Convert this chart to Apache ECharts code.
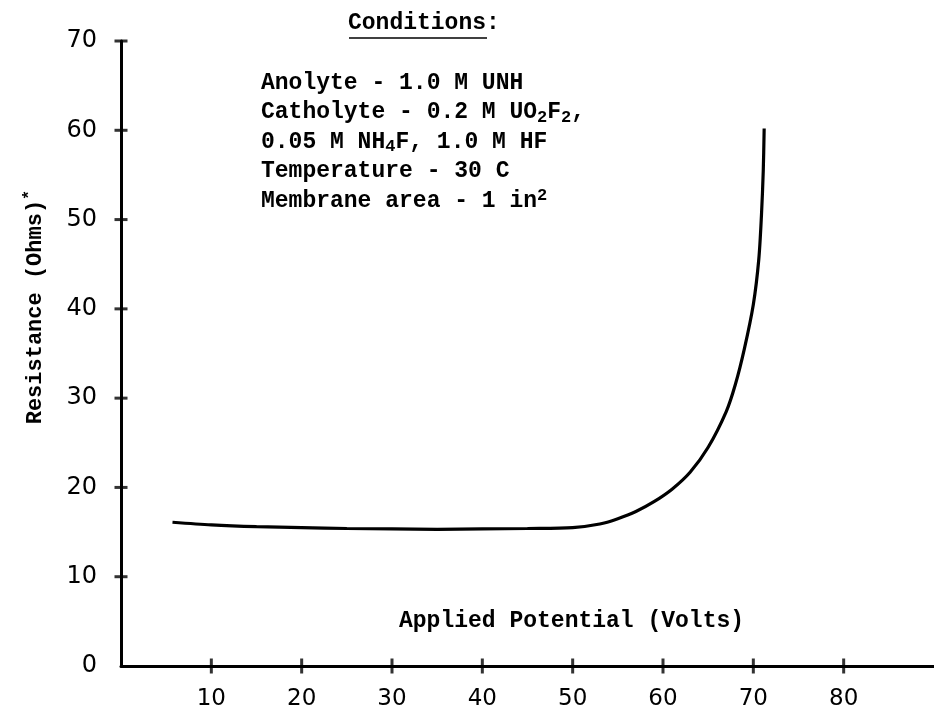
<!DOCTYPE html>
<html>
<head>
<meta charset="utf-8">
<script src="https://cdn.jsdelivr.net/npm/echarts@6/dist/echarts.min.js"></script>
<style>
html,body{margin:0;padding:0;background:#fff;}
#chart{width:934px;height:711px;}
</style>
</head>
<body>
<div id="chart"></div>
<script>
// ---- data ----
const potentialVolts = [5.7, 10, 15, 20, 25, 30, 35, 40, 45, 50, 53, 55, 57, 59, 61, 63, 65, 67, 68, 69, 70, 70.6, 70.9, 71.1, 71.2];
const resistanceOhms = [16.1, 15.8, 15.6, 15.5, 15.4, 15.35, 15.3, 15.35, 15.4, 15.5, 15.9, 16.5, 17.3, 18.4, 19.8, 21.7, 24.5, 28.5, 31.5, 35.5, 40.5, 45.5, 50.5, 55.5, 60.2];
const xTickLabels = [10, 20, 30, 40, 50, 60, 70, 80];
const yTickLabels = [0, 10, 20, 30, 40, 50, 60, 70];
const yTickMarks = [10, 20, 30, 40, 50, 60, 70];
const xAxisTitle = 'Applied Potential (Volts)';
const yAxisTitle = 'Resistance (Ohms)';
const conditionsTitle = 'Conditions';
const conditionLines = [
  'Anolyte - 1.0 M UNH',
  'Catholyte - 0.2 M UO{sub|2}F{sub|2},',
  '0.05 M NH{sub|4}F, 1.0 M HF',
  'Temperature - 30 C',
  'Membrane area - 1 in{sup|2}'
];

const mono = '"Liberation Mono", "DejaVu Sans Mono", monospace';
const numFont = '"DejaVu Sans", sans-serif';
const points = potentialVolts.map((x, i) => [x, resistanceOhms[i]]);
// tick crosses placed through the axis scales
const xCrosses = xTickLabels.map(v => [v, 0]);
const yCrosses = yTickMarks.map(v => [0, v]);

const richStyles = {
  sub: { fontFamily: mono, fontSize: 17, verticalAlign: 'bottom', padding: [10, 0, 0, 0], fill: '#000', fontWeight: 'bold' },
  sup: { fontFamily: mono, fontSize: 17, verticalAlign: 'top', padding: [0, 0, 10, 0], fill: '#000', fontWeight: 'bold' }
};

const graphics = [];
graphics.push({
  type: 'text', left: 348, top: 12,
  style: { text: conditionsTitle + ':', font: 'bold 23px ' + mono, fill: '#000' }
});
graphics.push({
  type: 'line', shape: { x1: 349, y1: 38, x2: 487, y2: 38 },
  style: { stroke: '#000', lineWidth: 1.5 }
});
conditionLines.forEach((t, i) => {
  graphics.push({
    type: 'text', x: 261, y: 83 + i * 29.5,
    style: {
      text: t, fontFamily: mono, fontSize: 23, fontWeight: 'bold', fill: '#000',
      verticalAlign: 'middle', align: 'left', rich: richStyles
    }
  });
});
graphics.push({
  type: 'text', x: 399, y: 621,
  style: { text: xAxisTitle, fontFamily: mono, fontSize: 23, fontWeight: 'bold', fill: '#000', verticalAlign: 'middle', align: 'left' }
});
graphics.push({
  type: 'text', x: 35, y: 307, rotation: Math.PI / 2,
  style: {
    text: yAxisTitle + '{sup|*}', fontFamily: mono, fontSize: 22, fontWeight: 'bold', fill: '#000',
    verticalAlign: 'middle', align: 'center', rich: richStyles
  }
});

const chart = echarts.init(document.getElementById('chart'));
chart.setOption({
  backgroundColor: '#ffffff',
  animation: false,
  grid: { left: 121, right: -9, top: 41, bottom: 43, containLabel: false },
  xAxis: {
    type: 'value', min: 0, max: 90, interval: 10, position: 'bottom',
    axisLine: { show: true, lineStyle: { color: '#000', width: 3 } },
    axisTick: { show: false },
    splitLine: { show: false },
    axisLabel: {
      margin: 22, color: '#000', fontFamily: numFont, fontSize: 23,
      customValues: xTickLabels
    }
  },
  yAxis: {
    type: 'value', min: 0, max: 70, interval: 10, position: 'left',
    axisLine: { show: true, lineStyle: { color: '#000', width: 3 } },
    axisTick: { show: false },
    splitLine: { show: false },
    axisLabel: {
      margin: 24, color: '#000', fontFamily: numFont, fontSize: 24,
      customValues: yTickLabels
    }
  },
  series: [{
    type: 'line', data: points,
    smooth: 0.3, showSymbol: false, symbol: 'none',
    lineStyle: { color: '#000', width: 3.2 }
  }, {
    type: 'scatter', data: xCrosses, symbol: 'rect', symbolSize: [3, 15],
    itemStyle: { color: '#000' }, clip: false, silent: true
  }, {
    type: 'scatter', data: yCrosses, symbol: 'rect', symbolSize: [13, 3],
    itemStyle: { color: '#000' }, clip: false, silent: true
  }],
  graphic: graphics
});
</script>
</body>
</html>
